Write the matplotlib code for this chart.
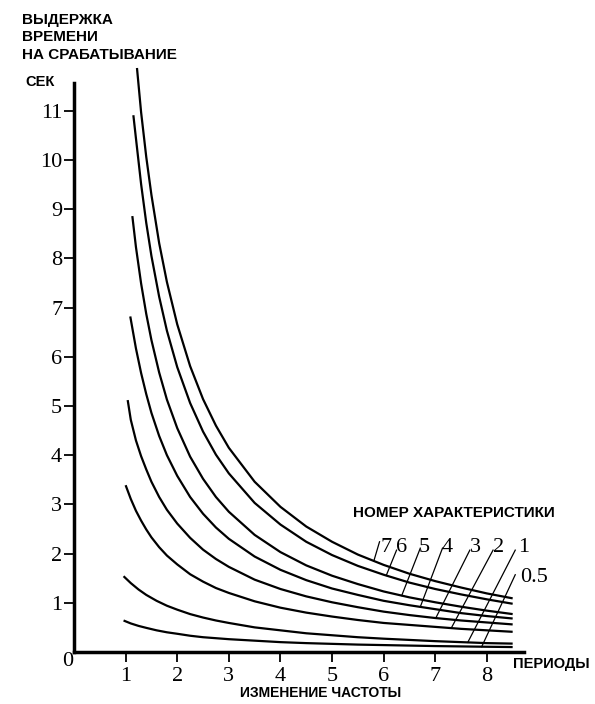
import matplotlib
matplotlib.use('Agg')
import numpy as np
import matplotlib.pyplot as plt

# Time delay (sec) vs frequency change (periods) for each characteristic number
x_7 = [1.22, 1.3, 1.4, 1.5, 1.65, 1.8, 2.0, 2.25, 2.5, 2.75, 3.0, 3.5, 4.0, 4.5, 5.0, 5.5, 6.0, 6.5, 7.0, 7.5, 8.0, 8.5]
t_7 = [11.87, 10.97, 10.06, 9.29, 8.31, 7.52, 6.66, 5.81, 5.14, 4.60, 4.15, 3.46, 2.95, 2.55, 2.24, 1.98, 1.77, 1.59, 1.44, 1.31, 1.19, 1.09]

x_6 = [1.15, 1.2, 1.3, 1.4, 1.5, 1.65, 1.8, 2.0, 2.25, 2.5, 2.75, 3.0, 3.5, 4.0, 4.5, 5.0, 5.5, 6.0, 6.5, 7.0, 7.5, 8.0, 8.5]
t_6 = [10.91, 10.44, 9.51, 8.72, 8.05, 7.22, 6.53, 5.79, 5.06, 4.48, 4.01, 3.63, 3.03, 2.59, 2.24, 1.97, 1.75, 1.57, 1.41, 1.28, 1.17, 1.07, 0.98]

x_5 = [1.13, 1.2, 1.3, 1.4, 1.5, 1.65, 1.8, 2.0, 2.25, 2.5, 2.75, 3.0, 3.5, 4.0, 4.5, 5.0, 5.5, 6.0, 6.5, 7.0, 7.5, 8.0, 8.5]
t_5 = [8.86, 8.23, 7.49, 6.87, 6.34, 5.68, 5.13, 4.55, 3.97, 3.52, 3.15, 2.85, 2.38, 2.03, 1.76, 1.55, 1.38, 1.23, 1.11, 1.01, 0.92, 0.84, 0.77]

x_4 = [1.09, 1.2, 1.3, 1.4, 1.5, 1.65, 1.8, 2.0, 2.25, 2.5, 2.75, 3.0, 3.5, 4.0, 4.5, 5.0, 5.5, 6.0, 6.5, 7.0, 7.5, 8.0, 8.5]
t_4 = [6.82, 6.17, 5.67, 5.24, 4.86, 4.39, 4.00, 3.58, 3.15, 2.81, 2.53, 2.30, 1.94, 1.67, 1.46, 1.29, 1.16, 1.04, 0.95, 0.87, 0.79, 0.73, 0.68]

x_3 = [1.04, 1.1, 1.2, 1.3, 1.4, 1.5, 1.65, 1.8, 2.0, 2.25, 2.5, 2.75, 3.0, 3.5, 4.0, 4.5, 5.0, 5.5, 6.0, 6.5, 7.0, 7.5, 8.0, 8.5]
t_3 = [5.12, 4.72, 4.30, 3.98, 3.71, 3.46, 3.15, 2.89, 2.61, 2.32, 2.08, 1.89, 1.73, 1.47, 1.28, 1.13, 1.01, 0.91, 0.82, 0.75, 0.69, 0.64, 0.60, 0.56]

x_2 = [1.0, 1.1, 1.2, 1.3, 1.4, 1.5, 1.65, 1.8, 2.0, 2.25, 2.5, 2.75, 3.0, 3.5, 4.0, 4.5, 5.0, 5.5, 6.0, 6.5, 7.0, 7.5, 8.0, 8.5]
t_2 = [3.39, 3.11, 2.87, 2.67, 2.49, 2.33, 2.13, 1.96, 1.78, 1.58, 1.43, 1.30, 1.20, 1.03, 0.90, 0.80, 0.72, 0.65, 0.59, 0.55, 0.51, 0.47, 0.44, 0.41]

x_1 = [0.96, 1.1, 1.25, 1.4, 1.6, 1.8, 2.0, 2.25, 2.5, 2.75, 3.0, 3.5, 4.0, 4.5, 5.0, 5.5, 6.0, 6.5, 7.0, 7.5, 8.0, 8.5]
t_1 = [1.54, 1.40, 1.27, 1.16, 1.04, 0.94, 0.86, 0.77, 0.70, 0.64, 0.59, 0.50, 0.44, 0.38, 0.34, 0.30, 0.27, 0.245, 0.22, 0.20, 0.18, 0.17]

x_05 = [0.96, 1.1, 1.25, 1.4, 1.6, 1.8, 2.0, 2.25, 2.5, 2.75, 3.0, 3.5, 4.0, 4.5, 5.0, 5.5, 6.0, 6.5, 7.0, 7.5, 8.0, 8.5]
t_05 = [0.64, 0.58, 0.53, 0.49, 0.44, 0.40, 0.37, 0.33, 0.30, 0.28, 0.26, 0.23, 0.20, 0.18, 0.165, 0.15, 0.14, 0.13, 0.12, 0.113, 0.106, 0.10]

curves = [('7', x_7, t_7), ('6', x_6, t_6), ('5', x_5, t_5), ('4', x_4, t_4),
          ('3', x_3, t_3), ('2', x_2, t_2), ('1', x_1, t_1), ('0.5', x_05, t_05)]

# number labels and where their pointer lines hit the curves
lab_x = [5.93, 6.24, 6.68, 7.12, 7.68, 8.12, 8.61, 8.65]
lab_y = [2.04, 2.04, 2.04, 2.04, 2.04, 2.04, 2.04, 1.43]
lead_top_x = [5.92, 6.25, 6.71, 7.14, 7.67, 8.12, 8.55, 8.55]
lead_top_y = [2.24, 2.07, 2.11, 2.11, 2.07, 2.07, 2.07, 1.57]
hit_x = [5.81, 6.05, 6.35, 6.71, 7.01, 7.31, 7.63, 7.9]

x_ticks = [1, 2, 3, 4, 5, 6, 7, 8]
y_ticks = [1, 2, 3, 4, 5, 6, 7, 8, 9, 10, 11]

serif = 'Liberation Serif'
sans = 'Liberation Sans'

fig = plt.figure(figsize=(5.95, 7.04), dpi=100)
ax = fig.add_axes([0.1244, 0.0739, 0.7563, 0.8386])

for name, xs, ts in curves:
    ax.plot(xs, ts, color='black', lw=1.6, solid_capstyle='butt', solid_joinstyle='round', clip_on=False)

# pointer lines from the numbers down to the curves
for i, (name, xs, ts) in enumerate(curves):
    yh = np.interp(hit_x[i], xs, ts)
    ax.plot([lead_top_x[i], hit_x[i]], [lead_top_y[i], yh], color='black', lw=0.9, clip_on=False)
    ax.text(lab_x[i], lab_y[i], name, family=serif, fontsize=16, ha='left', va='baseline')

ax.set_xlim(0, 8.72)
ax.set_ylim(0, 12.0)
ax.spines['top'].set_visible(False)
ax.spines['right'].set_visible(False)
ax.spines['left'].set_bounds(0, 11.57)
ax.spines['left'].set_linewidth(2.5)
ax.spines['bottom'].set_linewidth(2.5)

ax.set_xticks(x_ticks)
ax.set_yticks(y_ticks)
ax.tick_params(axis='both', direction='out', length=7, width=1.3, labelsize=16)
ax.tick_params(axis='x', pad=4)
ax.tick_params(axis='y', pad=1.5)
for lab in ax.get_xticklabels() + ax.get_yticklabels():
    lab.set_family(serif)

# axis titles and the origin
fig.text(0.1143, 0.0597, '0', family=serif, fontsize=16, ha='center', va='center')
ylab = ['ВЫДЕРЖКА', 'ВРЕМЕНИ', 'НА СРАБАТЫВАНИЕ']
ylab_y = [0.9716, 0.9474, 0.9219]
for s, yy in zip(ylab, ylab_y):
    fig.text(0.037, yy, s, family=sans, fontweight='bold', fontsize=11, ha='left', va='center')
fig.text(0.042, 0.8835, 'СЕК', family=sans, fontweight='bold', fontsize=10.5, ha='left', va='center')
fig.text(0.862, 0.0568, 'ПЕРИОДЫ', family=sans, fontweight='bold', fontsize=10.5, ha='left', va='center')
fig.text(0.403, 0.0156, 'ИЗМЕНЕНИЕ ЧАСТОТЫ', family=sans, fontweight='bold', fontsize=10, ha='left', va='center')
fig.text(0.593, 0.2713, 'НОМЕР ХАРАКТЕРИСТИКИ', family=sans, fontweight='bold', fontsize=11, ha='left', va='center')

fig.savefig('out.png', dpi=100, facecolor='white')
